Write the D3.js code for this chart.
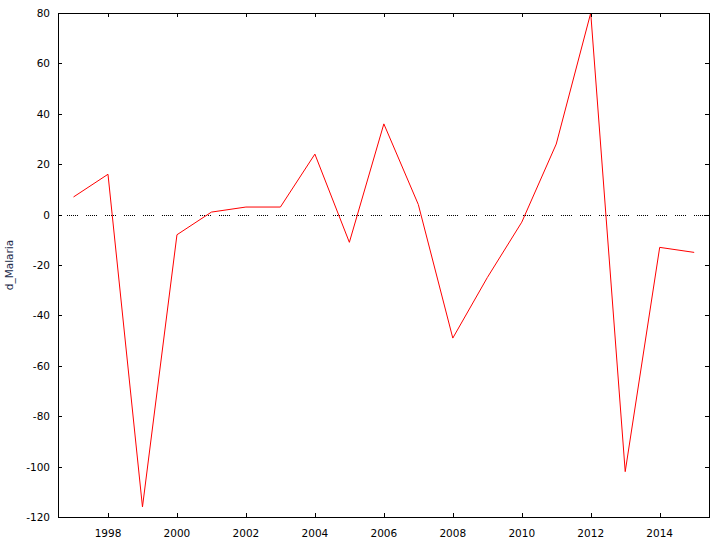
<!DOCTYPE html>
<html><head><meta charset="utf-8">
<script src="https://cdn.jsdelivr.net/npm/d3@7"></script>
<style>body{margin:0;background:#fff}svg{display:block}</style>
</head><body>
<script>
const years = [1997,1998,1999,2000,2001,2002,2003,2004,2005,2006,2007,2008,2009,2010,2011,2012,2013,2014,2015];
const dMalaria = [7,16,-116,-8,1,3,3,24,-11,36,4,-49,-25,-3,28,80,-102,-13,-15];
const xTicks = [1998,2000,2002,2004,2006,2008,2010,2012,2014];
const yTicks = [-120,-100,-80,-60,-40,-20,0,20,40,60,80];
const yLabel = "d_Malaria";

const W=720,H=550;
const L=58,R=709,T=13,B=517;
const svg=d3.select("body").append("svg").attr("width",W).attr("height",H);
const x=d3.scaleLinear().domain([1996.55,2015.43]).range([L,R]);
const y=d3.scaleLinear().domain([-120,80]).range([B,T]);
const font="DejaVu Sans, Verdana, sans-serif";

// zero line
svg.append("line").attr("x1",L).attr("x2",R).attr("y1",Math.round(y(0))+0.5).attr("y2",Math.round(y(0))+0.5)
  .attr("stroke","#000").attr("stroke-width",1)
  .attr("stroke-dasharray","1,1,1,1,1,1,1,1,1,1,1,8").attr("stroke-dashoffset",-9)
  .attr("shape-rendering","crispEdges");

// line
svg.append("path").datum(years.map((d,i)=>[d,dMalaria[i]]))
  .attr("fill","none").attr("stroke","#ff0000").attr("stroke-width",1)
  .attr("d",d3.line().x(d=>x(d[0])).y(d=>y(d[1])));

// frame
svg.append("rect").attr("x",L+0.5).attr("y",T+0.5).attr("width",R-L).attr("height",B-T)
  .attr("fill","none").attr("stroke","#000").attr("stroke-width",1).attr("shape-rendering","crispEdges");

const g=svg.append("g").attr("shape-rendering","crispEdges");
xTicks.forEach(t=>{
  const px=Math.round(x(t))+0.5;
  g.append("line").attr("x1",px).attr("x2",px).attr("y1",B).attr("y2",B-4).attr("stroke","#000");
  g.append("line").attr("x1",px).attr("x2",px).attr("y1",T).attr("y2",T+4).attr("stroke","#000");
});
yTicks.forEach(t=>{
  const py=Math.round(y(t))+0.5;
  g.append("line").attr("x1",L).attr("x2",L+4).attr("y1",py).attr("y2",py).attr("stroke","#000");
  g.append("line").attr("x1",R).attr("x2",R-4).attr("y1",py).attr("y2",py).attr("stroke","#000");
});

svg.append("g").selectAll("text").data(xTicks).join("text")
  .attr("x",d=>x(d)).attr("y",B+20).attr("text-anchor","middle")
  .attr("font-family",font).attr("font-size","10.5px").attr("fill","#000").text(d=>d);
svg.append("g").selectAll("text").data(yTicks).join("text")
  .attr("x",L-8).attr("y",d=>y(d)+4).attr("text-anchor","end")
  .attr("font-family",font).attr("font-size","10.5px").attr("fill","#000").text(d=>d);
svg.append("text").attr("transform","translate(13,"+y(-20)+") rotate(-90)")
  .attr("text-anchor","middle").attr("font-family",font).attr("font-size","10.5px").attr("fill","#1a2a4a").text(yLabel);
</script>
</body></html>
